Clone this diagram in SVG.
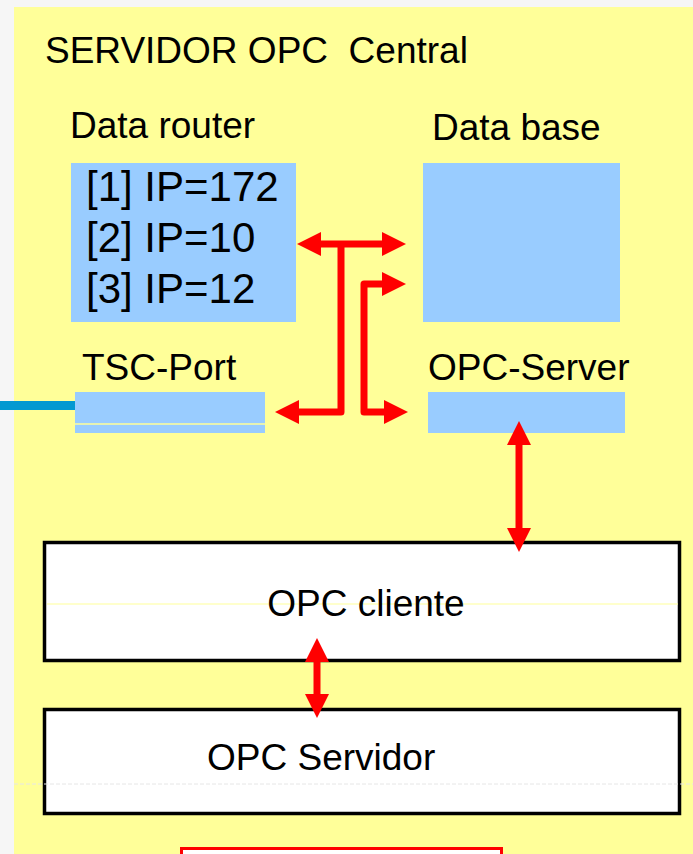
<svg xmlns="http://www.w3.org/2000/svg" width="693" height="854" viewBox="0 0 693 854">
  <style>
    .lbl { font-family: "Liberation Sans", Arial, sans-serif; font-size: 37px; fill: #000; }
    .ip { font-family: "Liberation Sans", Arial, sans-serif; font-size: 42px; fill: #000; }
    .blue { fill: #99CCFF; }
    .plain { fill: #FFFFFF; stroke: #000; stroke-width: 3.5; }
    .conn { fill: none; stroke: #FF0000; stroke-width: 7; stroke-linejoin: round; }
  </style>
  <defs>
    <marker id="head" markerUnits="userSpaceOnUse" markerWidth="24" markerHeight="24" refX="14" refY="12" orient="auto-start-reverse" overflow="visible">
      <path d="M0,0 L24,12 L0,24 z" fill="#FF0000"/>
    </marker>
  </defs>

  <!-- page background -->
  <rect x="0" y="0" width="693" height="854" fill="#F6F6F6"/>
  <rect x="14" y="7" width="679" height="847" fill="#FFFF99"/>

  <g id="title">
    <text class="lbl" x="45" y="63" xml:space="preserve" style="white-space: pre">SERVIDOR OPC  Central</text>
  </g>

  <g id="data-router">
    <text class="lbl" x="70" y="138">Data router</text>
    <rect class="blue" x="71" y="163" width="225" height="159"/>
    <text class="ip" x="86" y="201">[1] IP=172</text>
    <text class="ip" x="86" y="252">[2] IP=10</text>
    <text class="ip" x="86" y="303">[3] IP=12</text>
  </g>

  <g id="data-base">
    <text class="lbl" x="432" y="140">Data base</text>
    <rect class="blue" x="423" y="163" width="197" height="159"/>
  </g>

  <g id="tsc-port">
    <text class="lbl" x="82" y="380">TSC-Port</text>
    <rect x="0" y="401" width="76" height="9" fill="#0399D1"/>
    <rect class="blue" x="75" y="392" width="190" height="41"/>
    <line x1="75" y1="424" x2="265" y2="424" stroke="#FFFF99" stroke-width="1.5"/>
  </g>

  <g id="opc-server">
    <text class="lbl" x="428" y="380">OPC-Server</text>
    <rect class="blue" x="428" y="392" width="197" height="41"/>
  </g>

  <g id="opc-cliente">
    <rect class="plain" x="44.5" y="542.5" width="635" height="118"/>
    <line x1="47" y1="604" x2="678" y2="604" stroke="#FFFF99" stroke-width="1"/>
    <text class="lbl" x="366" y="616" text-anchor="middle">OPC cliente</text>
  </g>

  <g id="opc-servidor">
    <rect class="plain" x="44.5" y="709.5" width="635" height="104"/>
    <line x1="14" y1="784" x2="693" y2="784" stroke="#E6E6E6" stroke-width="1" stroke-dasharray="4 2"/>
    <text class="lbl" x="207" y="770">OPC Servidor</text>
  </g>

  <g id="bottom-box">
    <rect x="181.5" y="848.5" width="320" height="20" fill="#FFFFFF" stroke="#FF0000" stroke-width="3"/>
  </g>

  <g id="connectors">
    <path class="conn" d="M307 244 H396" marker-start="url(#head)" marker-end="url(#head)"/>
    <path class="conn" d="M341 244 V412 H285" marker-end="url(#head)"/>
    <path class="conn" d="M396 284 H364 V412 H398" marker-start="url(#head)" marker-end="url(#head)"/>
    <path class="conn" d="M519 431 V542" marker-start="url(#head)" marker-end="url(#head)"/>
    <path class="conn" d="M317 648 V708" marker-start="url(#head)" marker-end="url(#head)"/>
  </g>
</svg>
